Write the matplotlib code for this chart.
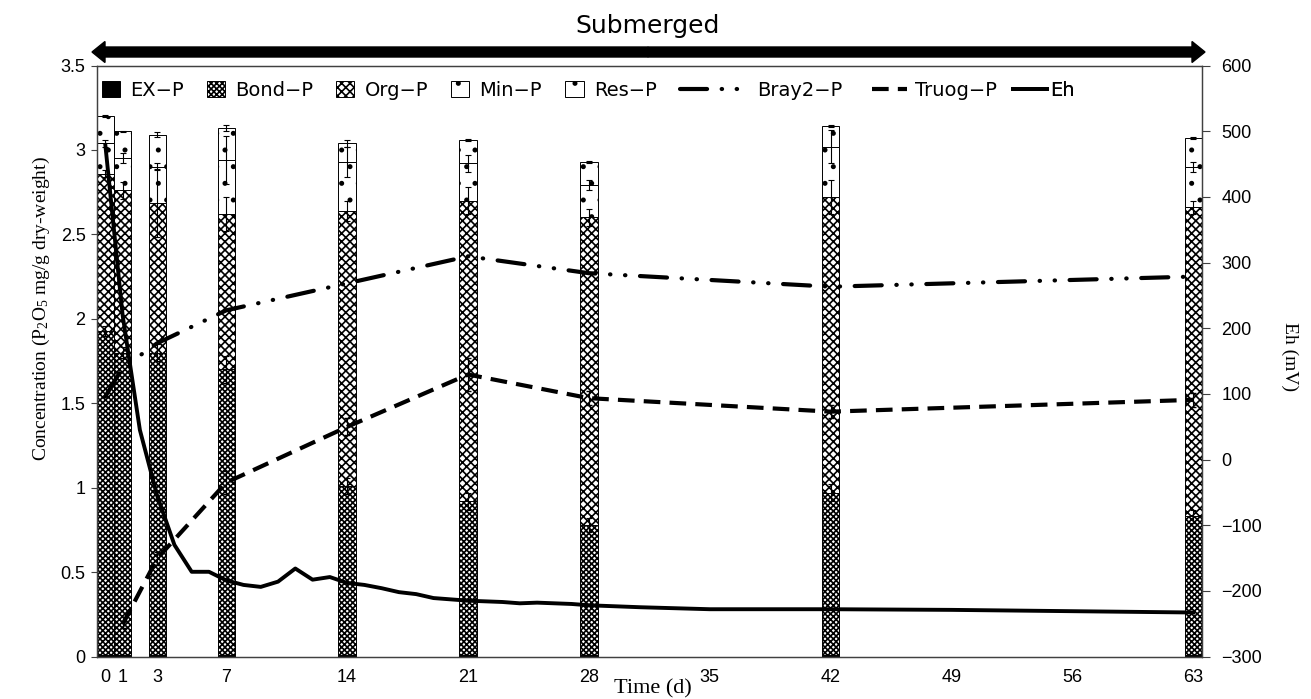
import numpy as np
import matplotlib.pyplot as plt
from matplotlib.patches import FancyArrow

plt.rcParams['hatch.linewidth'] = 1.2
plt.rcParams['mathtext.fontset'] = 'custom'
plt.rcParams['mathtext.rm'] = 'Liberation Serif'
plt.rcParams['mathtext.it'] = 'Liberation Serif'

# sampling days of the fractionation (bars) and the soil tests
days = [0, 1, 3, 7, 14, 21, 28, 42, 63]
ex_p = [0.01, 0.01, 0.01, 0.01, 0.01, 0.01, 0.01, 0.01, 0.01]
bond_p = [1.92, 1.79, 1.79, 1.69, 1.00, 0.91, 0.77, 0.96, 0.82]
org_p = [0.93, 0.96, 0.885, 0.92, 1.63, 1.78, 1.82, 1.75, 1.83]
min_p = [0.18, 0.19, 0.215, 0.32, 0.29, 0.22, 0.19, 0.30, 0.24]
res_p = [0.16, 0.16, 0.19, 0.19, 0.11, 0.14, 0.14, 0.12, 0.17]

bond_err = [0.03, 0.03, 0.05, 0.08, 0.05, 0.05, 0.04, 0.05, 0.04]
org_err = [0.02, 0.05, 0.20, 0.10, 0.06, 0.08, 0.05, 0.10, 0.04]
min_err = [0.02, 0.03, 0.02, 0.14, 0.09, 0.05, 0.03, 0.10, 0.03]
res_err = [0.005, 0.005, 0.015, 0.02, 0.02, 0.005, 0.005, 0.005, 0.005]

bray_p = [1.54, 1.71, 1.855, 2.05, 2.21, 2.37, 2.27, 2.19, 2.25]
truog_days = [1, 3, 7, 14, 21, 28, 42, 63]
truog_p = [0.19, 0.58, 1.03, 1.36, 1.67, 1.53, 1.45, 1.52]
truog_err = [0.02, 0.04, 0.07, 0.05, 0.10, 0.04, 0.04, 0.04]

eh_days = [0, 1, 2, 3, 4, 5, 6, 7, 8, 9, 10, 11, 12, 13, 14, 15, 16, 17, 18,
           19, 20, 21, 22, 23, 24, 25, 26, 27, 28, 31, 35, 42, 49, 56, 63]
eh_mv = [479, 220, 45, -55, -130, -171, -171, -184, -191, -194, -186, -166,
         -183, -179, -188, -191, -196, -202, -205, -211, -213, -215, -216,
         -217, -219, -218, -219, -220, -222, -225, -228, -228, -229, -231, -233]

xticks = [0, 1, 3, 7, 14, 21, 28, 35, 42, 49, 56, 63]
yticks = [0, 0.5, 1, 1.5, 2, 2.5, 3, 3.5]
ytick_labels = ['0', '0.5', '1', '1.5', '2', '2.5', '3', '3.5']
eh_ticks = [-300, -200, -100, 0, 100, 200, 300, 400, 500, 600]

W, H = 1311, 699
fig = plt.figure(figsize=(W / 100, H / 100), dpi=100)
ax = fig.add_axes([96.7 / W, 1 - 656.5 / H, (1202 - 96.7) / W, (656.5 - 65.5) / H])

# stacked bars
parts = [('EX\u2212P', ex_p, 'black', ''),
         ('Bond\u2212P', bond_p, 'white', 'xxxxxx'),
         ('Org\u2212P', org_p, 'white', 'xxxx'),
         ('Min\u2212P', min_p, 'white', '.'),
         ('Res\u2212P', res_p, 'white', '.')]
errs = [None, bond_err, org_err, min_err, res_err]
bottom = np.zeros(len(days))
bar_handles = []
for (name, vals, fc, hatch), err in zip(parts, errs):
    b = ax.bar(days, vals, width=1.0, bottom=bottom, color=fc, edgecolor='black',
               hatch=hatch, linewidth=0.7, label=name, zorder=2)
    bar_handles.append(b)
    bottom = bottom + np.array(vals)
    if err is not None:
        ax.errorbar(days, bottom, yerr=err, fmt='none', ecolor='black',
                    elinewidth=0.8, capsize=2.5, capthick=0.8, zorder=3)

bray_line, = ax.plot(days, bray_p, color='black', lw=3,
                     linestyle=(0, (6.5, 3.5, 0.1, 3.5, 0.1, 3.5)),
                     dash_capstyle='round', label='Bray2\u2212P', zorder=4)
truog_line, = ax.plot(truog_days, truog_p, color='black', lw=3,
                      linestyle=(0, (4, 2.2)), label='Truog\u2212P', zorder=4)
ax.errorbar(truog_days, truog_p, yerr=truog_err, fmt='none', ecolor='black',
            elinewidth=0.8, capsize=2.5, zorder=3)

ax.set_xlim(-0.5, 63.5)
ax.set_ylim(0, 3.5)
ax.set_xticks(xticks)
ax.set_xticklabels([str(d) for d in xticks])
ax.set_yticks(yticks)
ax.set_yticklabels(ytick_labels)
ax.tick_params(axis='x', length=0, pad=9, labelsize=13)
ax.tick_params(axis='y', length=4, width=0.8, pad=4, labelsize=13, color='#404040')
for lab in ax.get_xticklabels() + ax.get_yticklabels():
    lab.set_fontfamily('Liberation Sans')

ax2 = ax.twinx()
eh_line, = ax2.plot(eh_days, eh_mv, color='black', lw=2.8, label='Eh',
                    solid_joinstyle='round')
ax2.set_ylim(-300, 600)
ax2.set_yticks(eh_ticks)
ax2.tick_params(axis='y', length=6, width=0.8, pad=8, labelsize=13, color='#404040')
for lab in ax2.get_yticklabels():
    lab.set_fontfamily('Liberation Sans')

for a in (ax, ax2):
    for sp in a.spines.values():
        sp.set_color('#404040')
        sp.set_linewidth(0.9)

# legend row (patches, then the three lines)
yl = 1 - 90 / H
leg1 = ax2.legend([b.patches[0] for b in bar_handles], [p[0] for p in parts],
                  loc='center left', bbox_to_anchor=(101.7 / W, yl),
                  bbox_transform=fig.transFigure, ncol=5, frameon=False,
                  fontsize=14, handlelength=0.93, handleheight=0.93,
                  handletextpad=0.52, columnspacing=1.2, borderpad=0,
                  borderaxespad=0)
ax2.add_artist(leg1)
line_specs = [(bray_line, 680, 3.2, 0.75), (truog_line, 872, 1.8, 0.4),
              (eh_line, 1013, 1.75, 0.15)]
for ln, x0, hl, tp in line_specs:
    lg = ax2.legend([ln], [ln.get_label()], loc='center left',
                    bbox_to_anchor=(x0 / W, yl), bbox_transform=fig.transFigure,
                    frameon=False, fontsize=14, handlelength=hl,
                    handletextpad=tp, borderpad=0, borderaxespad=0)
    ax2.add_artist(lg)

# axis titles
fig.text(41 / W, 1 - 309 / H, 'Concentration (P$_2$O$_5$ mg/g dry-weight)',
         rotation=90, ha='center', va='center', fontsize=14,
         family='Liberation Serif')
fig.text(1290 / W, 1 - 357 / H, 'Eh (mV)', rotation=270, ha='center',
         va='center', fontsize=14, family='Liberation Serif')
fig.text(653 / W, 1 - 689 / H, 'Time (d)', ha='center', va='center',
         fontsize=16, family='Liberation Serif')

# submerged period arrow
yc = (H - 52) / 100
mid = 648 / 100
for end in (92 / 100, 1205 / 100):
    fig.add_artist(FancyArrow(mid, yc, end - mid, 0, width=0.10, head_width=0.21,
                              head_length=0.13, length_includes_head=True,
                              color='black', transform=fig.dpi_scale_trans))
fig.text(648 / W, 1 - 26 / H, 'Submerged', ha='center', va='center', fontsize=18)

fig.savefig('out.png', dpi=100)
